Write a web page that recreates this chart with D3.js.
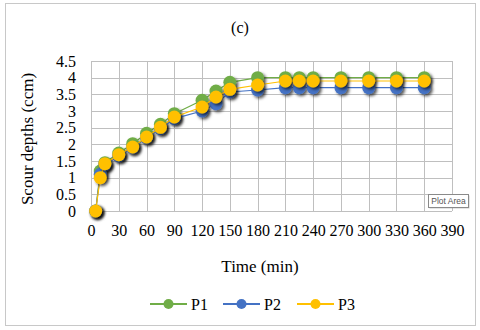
<!DOCTYPE html>
<html>
<head>
<meta charset="utf-8">
<script src="https://cdn.jsdelivr.net/npm/d3@7"></script>
<style>
  body { margin: 0; background: #fff; }
  text { font-family: "Liberation Serif", "Times New Roman", serif; fill: #000; }
</style>
</head>
<body>
<svg width="480" height="330"></svg>
<script>
// time (min) and scour depths for each pier
var times = [5, 10, 15, 30, 45, 60, 75, 90, 120, 135, 150, 180, 210, 225, 240, 270, 300, 330, 360];
var p1 = [0, 1.2, 1.45, 1.74, 2.02, 2.33, 2.6, 2.92, 3.32, 3.6, 3.86, 4.0, 4.0, 4.0, 4.0, 4.0, 4.0, 4.0, 4.0];
var p2 = [0, 1.1, 1.38, 1.65, 1.9, 2.2, 2.47, 2.77, 3.0, 3.22, 3.57, 3.63, 3.7, 3.7, 3.7, 3.7, 3.7, 3.7, 3.7];
var p3 = [0, 1.0, 1.42, 1.69, 1.92, 2.22, 2.51, 2.82, 3.12, 3.42, 3.65, 3.78, 3.9, 3.9, 3.9, 3.9, 3.9, 3.9, 3.9];
var seriesNames = ["P1", "P2", "P3"];
var colors = ["#70AD47", "#4472C4", "#FFC000"];
var xTicks = d3.range(0, 391, 30);
var yTicks = d3.range(0, 4.51, 0.5);

var svg = d3.select("svg");
var plotL = 91, plotR = 452, plotT = 61, plotB = 211;

var defs = svg.append("defs");
var f = defs.append("filter").attr("id", "shadow")
	.attr("x", "-50%").attr("y", "-50%").attr("width", "200%").attr("height", "200%");
f.append("feDropShadow")
	.attr("dx", 2).attr("dy", 2).attr("stdDeviation", 1.8)
	.attr("flood-color", "#000").attr("flood-opacity", 0.65);

// outer chart border
svg.append("rect")
	.attr("x", 5.5).attr("y", 3.5).attr("width", 470).attr("height", 322)
	.attr("fill", "#fff").attr("stroke", "#c8c8c8").attr("stroke-width", 1);

var x = d3.scaleLinear().domain([0, 390]).range([plotL, plotR]);
var y = d3.scaleLinear().domain([0, 4.5]).range([plotB, plotT]);

// gridlines
var grid = svg.append("g").attr("stroke", "#bfbfbf").attr("stroke-width", 1);
grid.selectAll("line.v").data(xTicks).enter().append("line").attr("class", "v")
	.attr("x1", function (d) { return Math.round(x(d)) + 0.5; })
	.attr("x2", function (d) { return Math.round(x(d)) + 0.5; })
	.attr("y1", plotT).attr("y2", plotB);
grid.selectAll("line.h").data(yTicks).enter().append("line").attr("class", "h")
	.attr("y1", function (d) { return Math.round(y(d)) + 0.5; })
	.attr("y2", function (d) { return Math.round(y(d)) + 0.5; })
	.attr("x1", plotL).attr("x2", plotR);

// axes (labels only)
var xAxis = svg.append("g").attr("transform", "translate(0," + (plotB + 6) + ")")
	.call(d3.axisBottom(x).tickValues(xTicks).tickSize(0).tickPadding(8));
xAxis.select(".domain").remove();
xAxis.selectAll("text").style("font-size", "16px").style("font-family", "Liberation Serif");

var yAxis = svg.append("g").attr("transform", "translate(" + (plotL - 15) + ",0)")
	.call(d3.axisLeft(y).tickValues(yTicks).tickSize(0).tickPadding(0).tickFormat(d3.format("")));
yAxis.select(".domain").remove();
yAxis.selectAll("text").style("font-size", "16px").style("font-family", "Liberation Serif");

// titles
svg.append("text").attr("x", 240).attr("y", 33).attr("text-anchor", "middle")
	.style("font-size", "16px").text("(c)");
svg.append("text").attr("x", 260).attr("y", 272).attr("text-anchor", "middle")
	.style("font-size", "17px").text("Time (min)");
svg.append("text").attr("transform", "translate(33,139) rotate(-90)")
	.attr("text-anchor", "middle").style("font-size", "17px").text("Scour depths (ccm)");

// series
var allSeries = [p1, p2, p3];
var line = d3.line()
	.x(function (d, i) { return x(times[i]); })
	.y(function (d) { return y(d); });

allSeries.forEach(function (vals, k) {
	svg.append("path").datum(vals)
		.attr("fill", "none").attr("stroke", colors[k]).attr("stroke-width", 1.2)
		.attr("d", line);
	svg.append("g").attr("filter", "url(#shadow)")
		.selectAll("circle").data(vals).enter().append("circle")
		.attr("cx", function (d, i) { return x(times[i]); })
		.attr("cy", function (d) { return y(d); })
		.attr("r", 6.5)
		.attr("fill", colors[k]);
});

// legend
var legendX = [150, 223, 297];
var leg = svg.append("g");
seriesNames.forEach(function (name, k) {
	var g = leg.append("g").attr("transform", "translate(" + legendX[k] + ",304)");
	g.append("line").attr("x1", 0).attr("x2", 37).attr("y1", 0).attr("y2", 0)
		.attr("stroke", colors[k]).attr("stroke-width", 2);
	g.append("circle").attr("cx", 18.5).attr("cy", 0).attr("r", 5).attr("fill", colors[k]);
	g.append("text").attr("x", 41).attr("y", 5.5).style("font-size", "16px").text(name);
});

// "Plot Area" tooltip
var tip = svg.append("g").attr("transform", "translate(428,194)");
tip.append("rect").attr("x", 1.5).attr("y", 1.5).attr("width", 40).attr("height", 13)
	.attr("fill", "#999").attr("opacity", 0.5);
tip.append("rect").attr("x", 0.5).attr("y", 0.5).attr("width", 40).attr("height", 13)
	.attr("fill", "#fff").attr("stroke", "#8a8a8a");
tip.append("text").attr("x", 20.5).attr("y", 10).attr("text-anchor", "middle")
	.style("font-family", "Liberation Sans, sans-serif").style("font-size", "8.5px").style("fill", "#555")
	.text("Plot Area");
</script>
</body>
</html>
